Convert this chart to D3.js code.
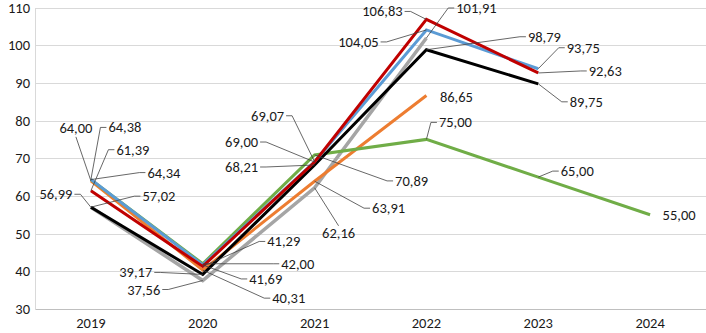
<!DOCTYPE html>
<html>
<head>
<meta charset="utf-8">
<script src="https://cdn.jsdelivr.net/npm/d3@7"></script>
<style>
  body { margin: 0; background: #fff; }
  svg text { font-family: Carlito, Calibri, "Liberation Sans Narrow", "Open Sans", sans-serif; fill: #1a1a1a; }
</style>
</head>
<body>
<div id="chart"></div>
<script>
// data
var years = ["2019", "2020", "2021", "2022", "2023", "2024"];
var yTicks = [30, 40, 50, 60, 70, 80, 90, 100, 110];

var gray   = [57.02, 37.56, 62.16, 101.91, null, null];
var orange = [64.00, 40.31, 63.91, 86.65, null, null];
var green  = [64.34, 42.00, 70.89, 75.00, 65.00, 55.00];
var black  = [56.99, 39.17, 68.21, 98.79, 89.75, null];
var blue   = [64.38, 41.69, 69.07, 104.05, 93.75, null];
var red    = [61.39, 41.29, 69.00, 106.83, 92.63, null];

// label placement: offset of text centre from the point, and side the leader leaves from
var labelPos = {
  gray:   [[68, -11, "l"], [-59, 9, "r"], [24, 45, "t"], [50, -30, "l"]],
  orange: [[-15, -53, "b"], [86, 28, "l"], [74, 27, "l"], [30, 1, ""]],
  green:  [[73, -7, "l"], [95, 0, "l"], [97, 26, "l"], [29, -17, "l"], [39, -6, "l"], [29, 0, ""]],
  black:  [[-35, -13, "r"], [-67, -2, "r"], [-73, 2, "r"], [118, -13, "l"], [48, 18, "l"]],
  blue:   [[34, -52, "l"], [63, 14, "l"], [-47, -46, "r"], [-68, 12, "r"], [45, -21, "l"]],
  red:    [[42, -41, "l"], [81, -25, "l"], [-73, -20, "r"], [-44, -8, "r"], [67, -2, "l"]]
};

var series = [
  {name: "gray", values: gray, color: "#A5A5A5", w: 3.5},
  {name: "orange", values: orange, color: "#ED7D31", w: 3},
  {name: "green", values: green, color: "#70AD47", w: 3},
  {name: "black", values: black, color: "#000000", w: 3},
  {name: "blue", values: blue, color: "#5B9BD5", w: 3},
  {name: "red", values: red, color: "#C00000", w: 3}
];

var width = 706, height = 333;
var margin = {top: 8, right: 0, bottom: 24, left: 35};

var svg = d3.select("#chart").append("svg")
  .attr("width", width)
  .attr("height", height);

var x = d3.scaleBand().domain(years).range([margin.left, width - margin.right]);
var y = d3.scaleLinear().domain([30, 110]).range([309, 7.5]);

function cx(yr) { return x(yr) + x.bandwidth() / 2; }

// grid
svg.append("g")
  .selectAll("line")
  .data(yTicks)
  .join("line")
    .attr("x1", margin.left)
    .attr("x2", width)
    .attr("y1", function(d) { return Math.round(y(d)) + 0.5; })
    .attr("y2", function(d) { return Math.round(y(d)) + 0.5; })
    .attr("stroke", function(d) { return d === 30 ? "#bfbfbf" : "#d9d9d9"; })
    .attr("stroke-width", 1);

svg.append("line")
  .attr("x1", margin.left + 0.5).attr("x2", margin.left + 0.5)
  .attr("y1", Math.round(y(110))).attr("y2", Math.round(y(30)) + 1)
  .attr("stroke", "#d9d9d9");

// axes labels
var yAxis = d3.axisLeft(y).tickValues(yTicks).tickSize(0).tickPadding(5);
svg.append("g")
  .attr("transform", "translate(" + margin.left + ",0)")
  .call(yAxis)
  .call(function(g) { g.select(".domain").remove(); })
  .selectAll("text")
    .style("font-size", "14.5px")
    .attr("fill", "#1a1a1a");

var xAxis = d3.axisBottom(x).tickSize(0).tickPadding(9);
svg.append("g")
  .attr("transform", "translate(0," + y(30) + ")")
  .call(xAxis)
  .call(function(g) { g.select(".domain").remove(); })
  .selectAll("text")
    .style("font-size", "14.5px")
    .attr("fill", "#1a1a1a");

// lines
var line = d3.line()
  .defined(function(d) { return d.v != null; })
  .x(function(d) { return cx(d.year); })
  .y(function(d) { return y(d.v); });

series.forEach(function(s) {
  var pts = years.map(function(yr, i) { return {year: yr, v: s.values[i]}; });
  svg.append("path")
    .datum(pts)
    .attr("fill", "none")
    .attr("stroke", s.color)
    .attr("stroke-width", s.w)
    .attr("stroke-linejoin", "miter")
    .attr("d", line);
});

// data labels + leader lines
var fmt = function(v) { return v.toFixed(2).replace(".", ","); };
var labels = svg.append("g");

series.forEach(function(s) {
  s.values.forEach(function(v, i) {
    if (v == null) return;
    var p = labelPos[s.name][i];
    var px = cx(years[i]), py = y(v);
    var tx = px + p[0], ty = py + p[1];
    var t = labels.append("text")
      .attr("x", tx)
      .attr("y", ty)
      .attr("text-anchor", "middle")
      .attr("dominant-baseline", "central")
      .style("font-size", "14.5px")
      .text(fmt(v));
    if (!p[2]) return;
    var bb = t.node().getBBox();
    var pts = [];
    if (p[2] === "l") {
      pts.push([bb.x - 2, ty], [bb.x - 8, ty]);
    } else if (p[2] === "r") {
      pts.push([bb.x + bb.width + 2, ty], [bb.x + bb.width + 8, ty]);
    } else if (p[2] === "t") {
      pts.push([tx, bb.y + 2]);
    } else {
      pts.push([tx, bb.y + bb.height]);
    }
    pts.push([px, py]);
    labels.append("path")
      .attr("d", d3.line()(pts))
      .attr("fill", "none")
      .attr("stroke", "#404040")
      .attr("stroke-width", 0.8);
  });
});
</script>
</body>
</html>
